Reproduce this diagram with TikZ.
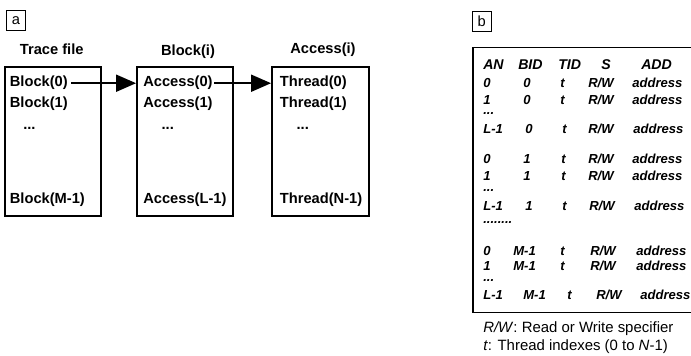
\documentclass[tikz,border=0pt]{standalone}
\usepackage{fontspec}
\setmainfont{Liberation Sans}
\usetikzlibrary{arrows.meta}
\begin{document}
\begin{tikzpicture}[x=0.75pt,y=-0.75pt,
  tag/.style={draw, line width=0.8pt, minimum width=14.25pt, minimum height=15pt, inner sep=0pt, font=\fontsize{11}{13}\selectfont},
  panel/.style={draw, line width=1.4pt, minimum height=112pt, inner sep=0pt},
  title/.style={anchor=base, inner sep=0pt, font=\fontsize{11}{13}\selectfont\bfseries},
  entry/.style={anchor=base west, inner sep=1pt, font=\fontsize{11}{13}\selectfont\bfseries},
  arr/.style={line width=1.4pt, -{Triangle[length=15pt, width=12.75pt]}},
  head/.style={anchor=base west, inner sep=0pt, font=\fontsize{10.6}{12}\selectfont\bfseries\itshape},
  cell/.style={anchor=base west, inner sep=0pt, font=\fontsize{9.8}{12}\selectfont\bfseries\itshape},
  note/.style={anchor=base west, inner sep=0pt, font=\fontsize{11.2}{13}\selectfont},
]
\useasboundingbox (0,0) rectangle (691,356);

% ---------- panel a ----------
\node[tag] (taga) at (16,20.5) {a};

\node[title] (ttrace) at (51.7,54.5) {Trace file};
\node[title] (tblock) at (188,55.5) {Block(i)};
\node[title] (taccess) at (323,53.5) {Access(i)};

\node[panel, minimum width=72pt] (b1) at (53,141.25) {};
\node[panel, minimum width=72pt] (b2) at (185,141.25) {};
\node[panel, minimum width=72.75pt] (b3) at (320.5,141.25) {};

\node[entry] (bl0) at (8.3,87) {Block(0)};
\node[entry] (bl1) at (8.3,107.5) {Block(1)};
\node[entry] (bld) at (21.7,129.5) {...};
\node[entry] (blm) at (8.3,203.5) {Block(M-1)};

\node[entry] (ac0) at (141.7,87) {Access(0)};
\node[entry] (ac1) at (141.7,107.5) {Access(1)};
\node[entry] (acd) at (160,129.5) {...};
\node[entry] (acl) at (141.7,203.5) {Access(L-1)};

\node[entry] (th0) at (278.3,87) {Thread(0)};
\node[entry] (th1) at (278.3,107.5) {Thread(1)};
\node[entry] (thd) at (295,130) {...};
\node[entry] (thn) at (278.3,203) {Thread(N-1)};

\draw[arr] ([xshift=1.5pt]bl0.east) -- (bl0.east -| b2.west);
\draw[arr] (ac0.east) -- (ac0.east -| b3.west);

% ---------- panel b ----------
\node[tag] (tagb) at (481.7,21.5) {b};

\draw[line width=1.4pt] (473,47.5) rectangle (720,312.5);

\node[head] (hAN) at (483,69.5) {AN};
\node[head] (hBID) at (518,69.5) {BID};
\node[head] (hTID) at (558,69.5) {TID};
\node[head] (hS) at (601,69.5) {S};
\node[head] (hADD) at (641,69.5) {ADD};

\foreach \yb/\xa/\ta/\xb/\tb/\xc/\xd/\xe [count=\i] in {
  87.4/483/0/523/0/560/588/632,
  104.7/483/1/523/0/560/588/632,
  133.7/483/L-1/525/0/562/588/633,
  163.7/483/0/523/1/561/588/632,
  180.4/483/1/523/1/561/588/632,
  210.4/483/L-1/525/1/562/589/634,
  255.4/483/0/513/M-1/560/590/636,
  270.4/483/1/513/M-1/560/590/636,
  299.7/483/L-1/523/M-1/567/596/640}{
  \node[cell] (an\i) at (\xa,\yb) {\ta};
  \node[cell] (bid\i) at (\xb,\yb) {\tb};
  \node[cell] (tid\i) at (\xc,\yb) {t};
  \node[cell] (s\i) at (\xd,\yb) {R/W};
  \node[cell] (add\i) at (\xe,\yb) {address};
}
\node[cell] (dots1) at (483,115) {...};
\node[cell] (dots2) at (483,191) {...};
\node[cell] (dots3) at (483,223) {........};
\node[cell] (dots4) at (483,281) {...};

\node[note] (n1) at (483,332.5) {\textit{R/W}: Read or Write specifier};
\node[note] (n2) at (483,350.5) {\textit{t}: Thread indexes (0 to \textit{N}-1)};
\end{tikzpicture}
\end{document}
